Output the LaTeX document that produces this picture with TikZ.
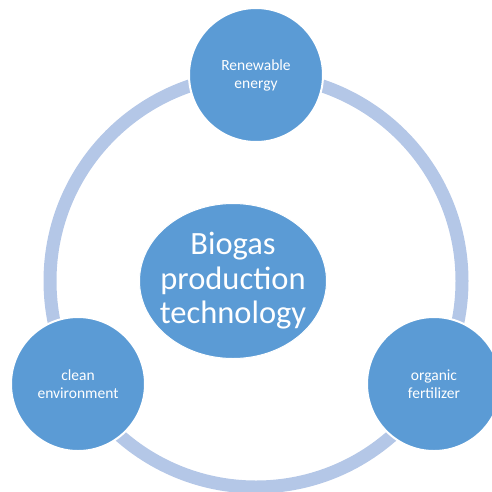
\documentclass[tikz,border=0pt]{standalone}
\usepackage{fontspec}
\setmainfont{Carlito}
\usepackage{tikz}
\usetikzlibrary{shapes.geometric}

\definecolor{nodeblue}{RGB}{91,155,213}
\definecolor{ringblue}{RGB}{180,199,231}

\tikzset{
  aspect/.style={circle, fill=nodeblue, draw=white, line width=2pt, minimum size=134pt,
    inner sep=0pt, align=center, text=white, font=\fontsize{15.5}{18}\selectfont},
  core/.style={ellipse, fill=nodeblue, draw=white, line width=1pt, minimum width=187pt,
    minimum height=155pt, inner xsep=-15pt, inner ysep=0pt, align=center, text=white,
    font=\fontsize{32.5}{34.5}\selectfont}
}

\begin{document}
\begin{tikzpicture}[x=1pt,y=-1pt]
  \useasboundingbox (0,0) rectangle (492,491);
  \coordinate (hub) at (256,281);
  \draw[ringblue, line width=13pt] (hub) circle (206pt);

  \draw (233,281) node[core] (biogas) {Biogas\\production\\technology};
  \draw (256,75) node[aspect] (energy) {Renewable\\energy};
  \draw (78,384) node[aspect] (clean) {clean\\environment};
  \draw (434,384) node[aspect] (fertilizer) {organic\\fertilizer};
\end{tikzpicture}
\end{document}
